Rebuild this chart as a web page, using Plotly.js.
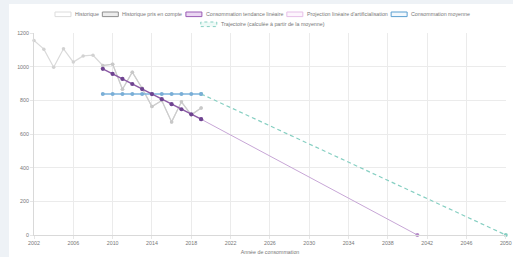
<!DOCTYPE html>
<html><head><meta charset="utf-8">
<script src="https://cdn.plot.ly/plotly-3.0.1.min.js"></script>
<style>
html,body{margin:0;padding:0;background:#eef2f6;width:513px;height:257px;overflow:hidden}
#chart{position:absolute;left:9px;top:4px;width:504px;height:253px;background:#fff}
</style></head>
<body><div id="chart"></div>
<script>
// ---- data ----
const histYears = [2002,2003,2004,2005,2006,2007,2008,2009,2010,2011,2012,2013,2014,2015,2016,2017,2018,2019];
const histValues = [1155,1104,997,1106,1027,1064,1068,1007,1015,866,967,872,763,799,672,791,714,754];
const usedYears = [2009,2010,2011,2012,2013,2014,2015,2016,2017,2018,2019];
const usedValues = [1007,1015,866,967,872,763,799,672,791,714,754];
const trendValues = [987,957,927,897,867,837,807,777,747,717,688];
const meanValues = [838,838,838,838,838,838,838,838,838,838,838];
const projYears = [2019,2041];
const projValues = [688,0];
const trajYears = [2019,2050];
const trajValues = [838,0];
const seriesNames = ["Historique","Historique pris en compte","Consommation tendance linéaire","Projection linéaire d'artificialisation","Consommation moyenne","Trajectoire (calculée à partir de la moyenne)"];
const xTicks = [2002,2006,2010,2014,2018,2022,2026,2030,2034,2038,2042,2046,2050];
const yTicks = [0,200,400,600,800,1000,1200];
const xTitle = "Année de consommation";

// ---- styles ----
const FONT = "Liberation Sans, Arial, sans-serif";
const FS = 5.3;
const traces = [
  {x: histYears, y: histValues, name: seriesNames[0], mode:'lines+markers',
   line:{color:'#dadada', width:1.2}, marker:{color:'#d2d2d2', size:3.5}},
  {x: usedYears, y: usedValues, name: seriesNames[1], mode:'lines+markers',
   line:{color:'#cdcdcd', width:1.2}, marker:{color:'#c8c8c8', size:3.5}},
  {x: projYears, y: projValues, name: seriesNames[3], mode:'lines+markers',
   line:{color:'#c7a6d6', width:1}, marker:{color:'#b58ac9', size:4}},
  {x: trajYears, y: trajValues, name: seriesNames[5], mode:'lines+markers',
   line:{color:'#86cfc2', width:1.2, dash:'4px,3px'}, marker:{color:'#86cfc2', size:4}},
  {x: usedYears, y: meanValues, name: seriesNames[4], mode:'lines+markers',
   line:{color:'#7db3dc', width:1.4}, marker:{color:'#7aaed6', size:4}},
  {x: usedYears, y: trendValues, name: seriesNames[2], mode:'lines+markers',
   line:{color:'#8b5aa5', width:1.5}, marker:{color:'#6e4390', size:4.2}}
];
traces.forEach(t => { t.showlegend = false; t.cliponaxis = false; t.hoverinfo='skip'; });

// custom legend (Chart.js-like boxes), laid out centred per row
const legendStyles = [
  {i:0, row:0, border:'#dcdcdc', fill:'#ffffff', dash:'solid'},
  {i:1, row:0, border:'#8f8f8f', fill:'#ececec', dash:'solid'},
  {i:2, row:0, border:'#9a5cb5', fill:'#ead6f2', dash:'solid'},
  {i:3, row:0, border:'#e6bfe8', fill:'#fdf5fd', dash:'solid'},
  {i:4, row:0, border:'#5b9fd0', fill:'#f2f8fd', dash:'solid'},
  {i:5, row:1, border:'#86cfc2', fill:'#eefaf7', dash:'dot'}
];
const ctx = document.createElement('canvas').getContext('2d');
ctx.font = FS + 'px ' + FONT;
const BOXW = 16, BOXGAP = 3, ITEMGAP = 4.5, CENTER = 262;
const PL = 34, PW = 472, PB = 235, PH = 202;
const px = X => (X - PL) / PW;
const py = Y => (PB - Y) / PH;
const rowY = [14.3, 24.3];
const shapes = [], annotations = [];
[0,1].forEach(row => {
  const items = legendStyles.filter(s => s.row === row);
  const widths = items.map(s => BOXW + BOXGAP + ctx.measureText(seriesNames[s.i]).width);
  const total = widths.reduce((a,b)=>a+b,0) + ITEMGAP*(items.length-1);
  let x = CENTER - total/2;
  items.forEach((it, k) => {
    const yc = rowY[row];
    shapes.push({type:'rect', xref:'paper', yref:'paper', x0:px(x), x1:px(x+BOXW),
      y0:py(yc+2.3), y1:py(yc-2.3), line:{color:it.border, width:1, dash:it.dash}, fillcolor:it.fill});
    annotations.push({xref:'paper', yref:'paper', x:px(x+BOXW+BOXGAP), y:py(yc), xanchor:'left', yanchor:'middle',
      text: seriesNames[it.i], showarrow:false, borderpad:0, font:{family:FONT, size:FS, color:'#777'}});
    x += widths[k] + ITEMGAP;
  });
});

const layout = {
  width:504, height:253,
  margin:{l:25, r:7, t:29, b:22},
  paper_bgcolor:'#ffffff', plot_bgcolor:'#ffffff',
  font:{family:FONT, size:FS, color:'#777'},
  showlegend:false,
  xaxis:{range:[2002,2050.02], tickvals:xTicks, ticktext:xTicks.map(String), showgrid:true,
    gridcolor:'#ebebeb', gridwidth:1, showline:true, linecolor:'#d9d9d9', linewidth:1,
    ticks:'outside', ticklen:3, tickcolor:'#e6e6e6', zeroline:false, automargin:false,
    ticklabeloverflow:'allow', tickfont:{size:FS, color:'#777'},
    title:{text:xTitle, font:{size:FS, color:'#777'}, standoff:4}},
  yaxis:{range:[0,1200], tickvals:yTicks, showgrid:true, gridcolor:'#ebebeb', gridwidth:1,
    showline:true, linecolor:'#d9d9d9', linewidth:1, ticks:'outside', ticklen:3, tickcolor:'#e6e6e6',
    zeroline:false, automargin:false, tickfont:{size:FS, color:'#777'}},
  shapes:shapes, annotations:annotations
};
Plotly.newPlot('chart', traces, layout, {staticPlot:true, displayModeBar:false});
</script></body></html>
